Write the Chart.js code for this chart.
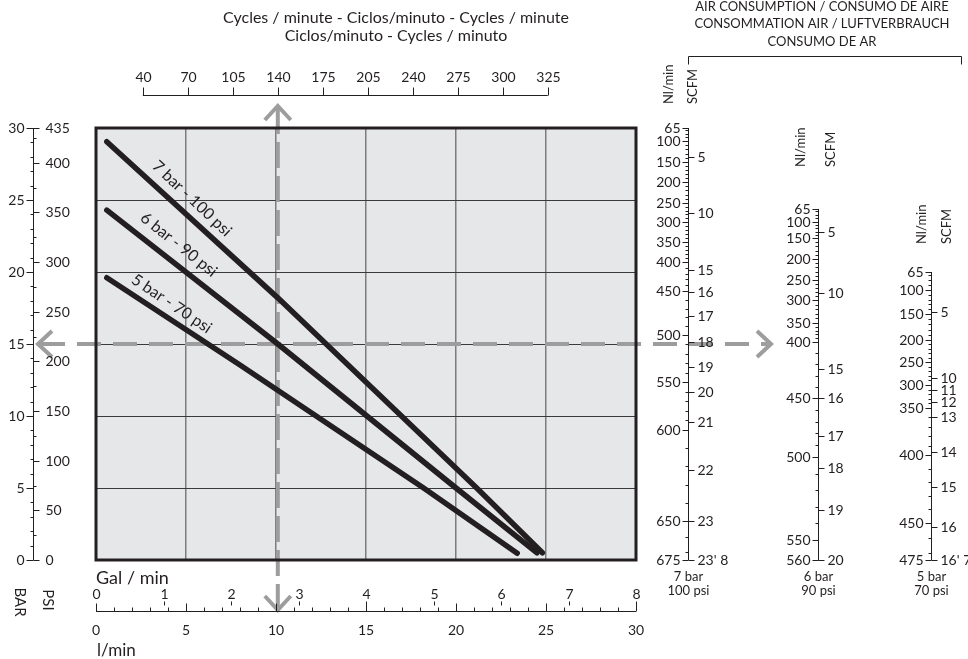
<!DOCTYPE html>
<html lang="en">
<head>
<meta charset="UTF-8">
<title>Pump curves</title>
<script src="https://cdn.jsdelivr.net/npm/chart.js@4.4.0/dist/chart.umd.min.js"></script>
<style>
  body { margin: 0; background: #fff; }
</style>
</head>
<body>
<canvas id="myChart" width="968" height="659"></canvas>
<script>
// flow (l/min) against outlet pressure (bar), one pair per supply pressure
var flow7 = [0.6, 10.13, 21.15, 24.8];
var bar7  = [29.05, 18.17, 5.0, 0.5];
var flow6 = [0.6, 10.1, 20.0, 24.5];
var bar6  = [24.3, 15.0, 5.0, 0.5];
var flow5 = [0.6, 8.0, 18.2, 23.4];
var bar5  = [19.6, 13.54, 5.0, 0.47];

var seriesNames = ['7 bar - 100 psi', '6 bar - 90 psi', '5 bar - 70 psi'];
// where the curve names sit (l/min, bar)
var nameAtFlow = [5.33, 4.6, 4.2];
var nameAtBar  = [25.1, 21.9, 17.8];

// axis ticks
var lpmTicks = [0, 5, 10, 15, 20, 25, 30];
var galTicks = [0, 1, 2, 3, 4, 5, 6, 7, 8];
var lpmPerGal = 30 / 8;
var barTicks = [0, 5, 10, 15, 20, 25, 30];
var psiTicks = [0, 50, 100, 150, 200, 250, 300, 350, 400, 435];
var psiPerBar = 435 / 30;
var cycleLabels = [40, 70, 105, 140, 175, 205, 240, 275, 300, 325];
var cycleAtFlow = [2.6, 5.1, 7.6, 10.1, 12.6, 15.1, 17.6, 20.1, 22.6, 25.1];

// reading example marked by the arrows
var markFlow = 10.1;
var markBar = 15;

// air consumption scales: label and the pressure (bar) it sits at
var nl7    = [65, 100, 150, 200, 250, 300, 350, 400, 450, 500, 550, 600, 650, 675];
var nl7At  = [30, 29.1, 27.64, 26.25, 24.79, 23.47, 22.08, 20.69, 18.68, 15.63, 12.36, 9.03, 2.71, 0];
var scfm7   = ['5', '10', '15', '16', '17', '18', '19', '20', '21', '22', '23', "23' 8"];
var scfm7At = [27.99, 24.1, 20.14, 18.61, 16.94, 15.14, 13.4, 11.67, 9.58, 6.25, 2.71, 0];

var nl6    = [65, 100, 150, 200, 250, 300, 350, 400, 450, 500, 550, 560];
var nl6At  = [24.38, 23.47, 22.36, 20.9, 19.44, 18.06, 16.46, 15.14, 11.25, 7.15, 1.39, 0];
var scfm6   = ['5', '10', '15', '16', '17', '18', '19', '20'];
var scfm6At = [22.78, 18.54, 13.26, 11.25, 8.61, 6.39, 3.47, 0];

var nl5    = [65, 100, 150, 200, 250, 300, 350, 400, 450, 475];
var nl5At  = [20, 18.75, 17.08, 15.28, 13.75, 12.15, 10.56, 7.29, 2.57, 0];
var scfm5   = ['5', '10', '11', '12', '13', '14', '15', '16', "16' 7"];
var scfm5At = [17.22, 12.64, 11.81, 10.97, 9.9, 7.5, 5.07, 2.29, 0];

var ink = '#231f20';
var FONT = 'Lato, "Open Sans", sans-serif';

function pts(xs, ys) { return xs.map(function (v, i) { return { x: v, y: ys[i] }; }); }

function txt(c, s, x, y, align, size, rot) {
  c.save();
  c.font = size + 'px ' + FONT;
  c.fillStyle = ink;
  c.textAlign = align || 'center';
  c.textBaseline = 'middle';
  c.translate(x, y);
  if (rot) c.rotate(rot);
  c.fillText(s, 0, 0);
  c.restore();
}
function seg(c, x1, y1, x2, y2) { c.beginPath(); c.moveTo(x1, y1); c.lineTo(x2, y2); c.stroke(); }
function chevron(c, tx, ty, dx1, dy1, dx2, dy2) {
  c.beginPath(); c.moveTo(tx + dx1, ty + dy1); c.lineTo(tx, ty); c.lineTo(tx + dx2, ty + dy2); c.stroke();
}
function posOf(v, vals, ats) {
  for (var i = 0; i < vals.length - 1; i++) {
    if (v >= vals[i] && v <= vals[i + 1]) {
      var t = (v - vals[i]) / (vals[i + 1] - vals[i]);
      return ats[i] + t * (ats[i + 1] - ats[i]);
    }
  }
  return null;
}

var airScales = [
  { nl: nl7, nlAt: nl7At, scfm: scfm7, scfmAt: scfm7At, name: ['7 bar', '100 psi'], dx: 52, gap: 24, nlDx: -20, scDx: 4 },
  { nl: nl6, nlAt: nl6At, scfm: scfm6, scfmAt: scfm6At, name: ['6 bar', '90 psi'], dx: 182, gap: 42, nlDx: -18, scDx: 12 },
  { nl: nl5, nlAt: nl5At, scfm: scfm5, scfmAt: scfm5At, name: ['5 bar', '70 psi'], dx: 295, gap: 28, nlDx: -10, scDx: 15 }
];

var decor = {
  id: 'decor',
  beforeDraw: function (chart) {
    var a = chart.chartArea, c = chart.ctx;
    c.save();
    c.fillStyle = '#e6e7e8';
    c.fillRect(a.left, a.top, a.right - a.left, a.bottom - a.top);
    c.restore();
  },
  beforeDatasetsDraw: function (chart) {
    var c = chart.ctx, a = chart.chartArea;
    var px = chart.scales.x.getPixelForValue(markFlow);
    var py = chart.scales.y.getPixelForValue(markBar);
    c.save();
    c.strokeStyle = '#9d9d9d';
    c.lineWidth = 4;
    c.setLineDash([26, 8]);
    seg(c, px, a.top - 20, px, a.bottom + 48);
    c.setLineDash([24, 12]);
    seg(c, a.left - 55, py, a.right + 132, py);
    c.setLineDash([]);
    chevron(c, px, a.top - 22, -13, 14, 13, 14);
    chevron(c, px, a.bottom + 50, -13, -14, 13, -14);
    chevron(c, a.left - 58, py, 14, -13, 14, 13);
    chevron(c, a.right + 135, py, -14, -13, -14, 13);
    c.restore();
  },
  afterDraw: function (chart) {
    var c = chart.ctx, a = chart.chartArea, xs = chart.scales.x, ys = chart.scales.y;
    var i, y, x;
    c.save();
    c.strokeStyle = ink;
    c.lineWidth = 3;
    c.strokeRect(a.left, a.top, a.right - a.left, a.bottom - a.top);
    c.lineWidth = 1;

    // curve names along the lines
    chart.data.datasets.forEach(function (ds, k) {
      var d = ds.data;
      var x0 = xs.getPixelForValue(d[0].x), y0 = ys.getPixelForValue(d[0].y);
      var x1 = xs.getPixelForValue(d[d.length - 1].x), y1 = ys.getPixelForValue(d[d.length - 1].y);
      var ang = Math.atan2(y1 - y0, x1 - x0);
      txt(c, seriesNames[k], xs.getPixelForValue(nameAtFlow[k]), ys.getPixelForValue(nameAtBar[k]), 'center', 16, ang);
    });

    // BAR / PSI axis
    var ax = a.left - 62.5;
    seg(c, ax, ys.getPixelForValue(30), ax, ys.getPixelForValue(0));
    for (i = 0; i <= 30; i++) {
      y = Math.round(ys.getPixelForValue(i)) + 0.5;
      seg(c, ax - (i % 5 === 0 ? 7 : 3), y, ax, y);
    }
    barTicks.forEach(function (b) { txt(c, String(b), ax - 9, ys.getPixelForValue(b), 'right', 14); });
    for (i = 25; i < 435; i += 50) {
      y = Math.round(ys.getPixelForValue(i / psiPerBar)) + 0.5;
      seg(c, ax, y, ax + 3, y);
    }
    psiTicks.forEach(function (p) {
      y = Math.round(ys.getPixelForValue(p / psiPerBar)) + 0.5;
      seg(c, ax, y, ax + 6, y);
      txt(c, String(p), ax + 12, y, 'left', 14);
    });
    txt(c, 'BAR', 20, a.bottom + 42, 'center', 15, Math.PI / 2);
    txt(c, 'PSI', 48, a.bottom + 40, 'center', 15, Math.PI / 2);

    // l/min and Gal/min axis
    var by = a.bottom + 51.5;
    seg(c, xs.getPixelForValue(0), by, xs.getPixelForValue(30), by);
    for (i = 0; i <= 30; i++) {
      x = Math.round(xs.getPixelForValue(i)) + 0.5;
      seg(c, x, by, x, by - (i % 5 === 0 ? 8 : 4));
    }
    lpmTicks.forEach(function (l) { txt(c, String(l), xs.getPixelForValue(l), by + 19, 'center', 14); });
    galTicks.forEach(function (g) {
      x = Math.round(xs.getPixelForValue(g * lpmPerGal)) + 0.5;
      txt(c, String(g), x, by - 17, 'center', 14);
      if (g) seg(c, x, by - 10, x, by - 6);
    });
    txt(c, 'Gal / min', a.left, a.bottom + 18, 'left', 18);
    txt(c, 'l/min', a.left + 1, by + 39, 'left', 17);

    // cycles per minute axis
    var ty = a.top - 32.5;
    var n = cycleAtFlow.length;
    seg(c, xs.getPixelForValue(cycleAtFlow[0]), ty, xs.getPixelForValue(cycleAtFlow[n - 1]), ty);
    cycleLabels.forEach(function (v, k) {
      x = Math.round(xs.getPixelForValue(cycleAtFlow[k])) + 0.5;
      seg(c, x, ty, x, ty - 8);
      txt(c, String(v), x, ty - 18, 'center', 14);
    });
    txt(c, 'Cycles / minute - Ciclos/minuto - Cycles / minute', 396, 18, 'center', 16);
    txt(c, 'Ciclos/minuto - Cycles / minuto', 396, 36, 'center', 16);

    // air consumption block
    txt(c, 'AIR CONSUMPTION / CONSUMO DE AIRE', 822, 7, 'center', 13);
    txt(c, 'CONSOMMATION AIR / LUFTVERBRAUCH', 822, 24, 'center', 13);
    txt(c, 'CONSUMO DE AR', 822, 42, 'center', 13);
    var lx = Math.round(a.right + 52) + 0.5, rx = 961.5, bk = 56.5;
    seg(c, lx, bk, rx, bk);
    seg(c, lx, bk, lx, bk + 8);
    seg(c, rx, bk, rx, bk + 8);

    airScales.forEach(function (s) {
      var sx = Math.round(a.right + s.dx) + 0.5;
      var top = ys.getPixelForValue(s.nlAt[0]);
      var bot = ys.getPixelForValue(0);
      seg(c, sx, top, sx, bot);
      var last = s.nl[s.nl.length - 1];
      for (var v = Math.ceil(s.nl[0] / 10) * 10; v <= last; v += 10) {
        var p = posOf(v, s.nl, s.nlAt);
        if (p === null) continue;
        y = Math.round(ys.getPixelForValue(p)) + 0.5;
        seg(c, sx - 3, y, sx, y);
      }
      s.nl.forEach(function (v, k) {
        y = Math.round(ys.getPixelForValue(s.nlAt[k])) + 0.5;
        seg(c, sx - 6, y, sx, y);
        txt(c, String(v), sx - 8, y, 'right', 14);
      });
      s.scfm.forEach(function (v, k) {
        y = Math.round(ys.getPixelForValue(s.scfmAt[k])) + 0.5;
        seg(c, sx, y, sx + 6, y);
        txt(c, v, sx + 9, y, 'left', 14);
      });
      txt(c, 'Nl/min', sx + s.nlDx, top - s.gap, 'left', 13, -Math.PI / 2);
      txt(c, 'SCFM', sx + s.scDx, top - s.gap, 'left', 13, -Math.PI / 2);
      txt(c, s.name[0], sx, bot + 17, 'center', 13);
      txt(c, s.name[1], sx, bot + 31, 'center', 13);
    });
    c.restore();
  }
};

var ctx = document.getElementById('myChart').getContext('2d');
var myChart = new Chart(ctx, {
  type: 'line',
  data: {
    datasets: [
      { label: seriesNames[0], data: pts(flow7, bar7) },
      { label: seriesNames[1], data: pts(flow6, bar6) },
      { label: seriesNames[2], data: pts(flow5, bar5) }
    ]
  },
  options: {
    responsive: false,
    animation: false,
    devicePixelRatio: 1,
    layout: { padding: { left: 96, top: 128, right: 332, bottom: 99 } },
    plugins: { legend: { display: false }, tooltip: { enabled: false } },
    elements: {
      line: { borderColor: ink, borderWidth: 5.5, borderCapStyle: 'round', tension: 0, fill: false },
      point: { radius: 0, hoverRadius: 0 }
    },
    scales: {
      x: {
        type: 'linear', min: 0, max: 30,
        ticks: { display: false, stepSize: 5 },
        grid: { color: '#7d7d7d', lineWidth: 1.5, drawTicks: false },
        border: { display: false }
      },
      y: {
        type: 'linear', min: 0, max: 30,
        ticks: { display: false, stepSize: 5 },
        grid: { color: '#3a3a3a', lineWidth: 1, drawTicks: false },
        border: { display: false }
      }
    }
  },
  plugins: [decor]
});
</script>
</body>
</html>
